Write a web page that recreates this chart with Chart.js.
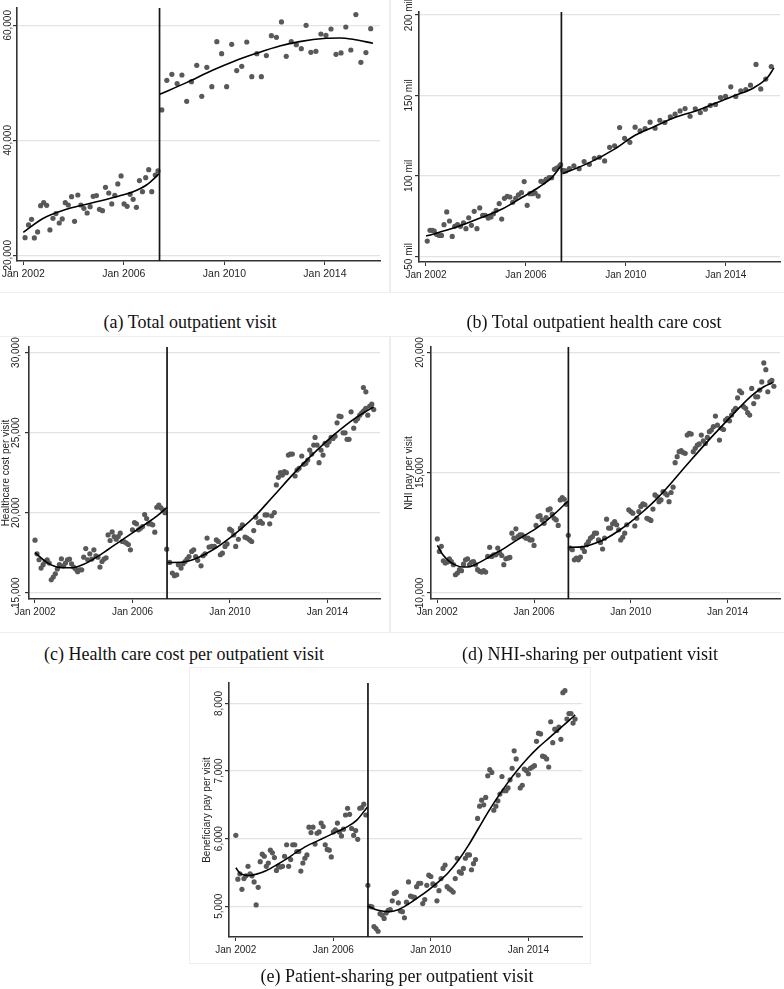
<!DOCTYPE html>
<html><head><meta charset="utf-8">
<script src="https://cdn.jsdelivr.net/npm/chart.js@4.4.1/dist/chart.umd.min.js"></script>
<style>
html,body{margin:0;padding:0;background:#fff;}
body{width:784px;height:989px;position:relative;overflow:hidden;}
canvas{position:absolute;outline:1px solid #eeeeee;}
.cap{position:absolute;font-family:'Liberation Serif','Times New Roman',serif;font-size:18px;color:#111;white-space:nowrap;transform:translateX(-50%);line-height:20px;}
</style></head><body>
<canvas id="pa" width="390" height="292" style="left:0;top:0;width:390px;height:292px"></canvas>
<canvas id="pb" width="394" height="292" style="left:390px;top:0;width:394px;height:292px"></canvas>
<canvas id="pc" width="390" height="295" style="left:0;top:337px;width:390px;height:295px"></canvas>
<canvas id="pd" width="394" height="295" style="left:390px;top:337px;width:394px;height:295px"></canvas>
<canvas id="pe" width="400" height="295" style="left:190px;top:668px;width:400px;height:295px"></canvas>
<div class="cap" style="left:190px;top:312px">(a) Total outpatient visit</div>
<div class="cap" style="left:594px;top:312px">(b) Total outpatient health care cost</div>
<div class="cap" style="left:184px;top:644px">(c) Health care cost per outpatient visit</div>
<div class="cap" style="left:590px;top:644px">(d) NHI-sharing per outpatient visit</div>
<div class="cap" style="left:397px;top:966px">(e) Patient-sharing per outpatient visit</div>
<script>
// ---------- shared ----------
const xTickYears = [2002, 2006, 2010, 2014];
const cutoff = 2007.42;

// ---------- (a) Total outpatient visit ----------
const aPreX = [2002.07,2002.21,2002.33,2002.44,2002.57,2002.69,2002.81,2002.93,2003.06,2003.18,2003.30,2003.43,2003.55,2003.67,2003.79,2003.92,2004.04,2004.17,2004.29,2004.41,2004.54,2004.66,2004.78,2004.91,2005.03,2005.15,2005.27,2005.40,2005.52,2005.64,2005.76,2005.89,2006.01,2006.13,2006.25,2006.37,2006.50,2006.62,2006.74,2006.87,2006.99,2007.11,2007.25,2007.36];
const aPreY = [23070,25280,26260,23020,24060,28640,29160,28700,24410,26440,27250,25620,26320,29160,28750,30200,25910,30490,28750,28170,27360,28460,30260,30380,28000,27770,31830,30840,28930,30440,32410,33800,28930,28520,30610,29740,28350,32990,31070,33510,34900,31070,33970,34670];
const aPostX = [2007.51,2007.71,2007.91,2008.12,2008.31,2008.50,2008.69,2008.90,2009.10,2009.30,2009.50,2009.70,2009.89,2010.09,2010.29,2010.49,2010.69,2010.89,2011.09,2011.29,2011.47,2011.67,2011.87,2012.07,2012.27,2012.46,2012.66,2012.86,2013.06,2013.25,2013.44,2013.64,2013.84,2014.04,2014.24,2014.44,2014.64,2014.83,2015.03,2015.23,2015.43,2015.63,2015.82];
const aPostY = [45280,50440,51480,49860,51360,46780,50200,53040,47650,52700,49330,57160,55070,49330,56700,52120,52870,57100,51070,55070,51070,54730,58200,57910,60580,54610,57160,56640,55940,60000,55300,55480,58490,58260,59360,54960,55190,59710,55710,61860,53570,55250,59420];
const aFitPreX = [2002.0,2002.8,2003.72,2004.38,2005.05,2005.71,2006.37,2006.9,2007.40];
const aFitPreY = [24000,26440,28000,28750,29450,30200,31070,32230,34150];
const aFitPostX = [2007.43,2008.49,2009.55,2010.34,2011.27,2012.2,2012.99,2014.05,2014.58,2015.11,2015.91];
const aFitPostY = [48000,50030,52230,53680,55130,56410,57160,57740,57800,57570,56870];
const aTicks = [20000,40000,60000];

// ---------- (b) Total outpatient health care cost (mil) ----------
const bPreX = [2002.05,2002.16,2002.25,2002.33,2002.42,2002.53,2002.62,2002.72,2002.83,2002.94,2003.05,2003.15,2003.26,2003.38,2003.50,2003.60,2003.71,2003.82,2003.93,2004.04,2004.15,2004.27,2004.37,2004.49,2004.60,2004.70,2004.81,2004.93,2005.03,2005.14,2005.25,2005.36,2005.47,2005.59,2005.70,2005.82,2005.93,2006.05,2006.16,2006.27,2006.37,2006.49,2006.60,2006.70,2006.81,2006.93,2007.03,2007.14,2007.23,2007.34,2007.39];
const bPreY = [59.5,66.2,66.2,65.7,63.7,63.0,63.0,69.7,77.6,72.0,62.4,68.7,69.7,68.7,70.9,67.2,74.0,69.3,78.0,67.2,80.1,75.5,75.5,73.8,74.5,76.5,78.6,82.8,73.2,86.1,87.3,86.9,83.6,86.1,88.2,89.6,96.5,81.7,89.0,89.0,89.4,87.5,96.7,96.3,97.9,98.9,98.9,104.1,104.8,106.0,107.0];
const bPostX = [2007.48,2007.59,2007.74,2007.92,2008.13,2008.33,2008.54,2008.74,2008.94,2009.15,2009.35,2009.55,2009.75,2009.95,2010.16,2010.37,2010.57,2010.77,2010.97,2011.17,2011.36,2011.56,2011.78,2011.97,2012.17,2012.37,2012.57,2012.78,2012.98,2013.18,2013.38,2013.59,2013.79,2013.99,2014.20,2014.40,2014.60,2014.80,2014.99,2015.21,2015.40,2015.60,2015.82];
const bPostY = [103.5,103.1,104.5,106.2,104.5,108.9,107.2,111.0,111.6,109.3,117.8,118.7,130.1,123.4,120.9,130.3,128.0,129.4,133.4,129.7,134.6,133.2,136.7,138.4,140.4,141.9,137.1,141.7,139.4,141.5,143.8,144.4,148.7,149.4,155.4,149.4,152.9,153.7,156.4,169.3,154.1,160.2,168.0];
const bFitPreX = [2002.0,2003.22,2004.28,2005.07,2005.87,2006.53,2007.06,2007.40];
const bFitPreY = [62.6,68.2,74.5,79.6,86.9,93.1,99.4,106.2];
const bFitPostX = [2007.46,2008.52,2009.58,2010.37,2011.17,2011.96,2012.76,2013.55,2014.34,2015.14,2015.67,2015.93];
const bFitPostY = [101.4,108.1,117.0,125.3,130.9,136.3,140.2,145.0,149.8,155.0,161.2,167.2];
const bTicks = [50,100,150,200];

// ---------- (c) Health care cost per visit (monthly pre, read positions post) ----------
const cPre = [18280,17430,17060,16540,16750,16950,17060,16850,15810,15980,16180,16480,16750,17120,16680,16850,17060,17100,16810,16600,16480,16310,16430,16430,17220,17760,17060,17430,17100,17680,17310,17220,16600,16950,17100,17180,18610,18260,18800,18510,18340,18510,18720,18200,18180,18100,18010,17680,18930,19380,19300,18930,19030,19130,19880,19630,19300,19300,19240,18780,20340,20480,20300,20170,20000];
const cPostX = [2007.405,2007.529,2007.638,2007.720,2007.816,2007.884,2007.994,2008.076,2008.158,2008.240,
2008.322,2008.432,2008.514,2008.596,2008.678,2008.815,2008.897,2008.979,2009.061,2009.143,
2009.253,2009.362,2009.444,2009.526,2009.609,2009.691,2009.800,2009.882,2009.992,2010.074,
2010.156,2010.238,2010.347,2010.430,2010.512,2010.621,2010.703,2010.813,2010.895,2010.977,
2011.059,2011.169,2011.251,2011.333,2011.442,2011.524,2011.634,2011.716,2011.825,2011.907,
2011.990,2012.072,2012.154,2012.236,2012.318,2012.400,2012.482,2012.564,2012.674,2012.756,
2012.838,2012.948,2013.030,2013.112,2013.194,2013.276,2013.358,2013.440,2013.495,2013.577,
2013.659,2013.741,2013.823,2013.905,2013.987,2014.070,2014.152,2014.234,2014.316,2014.398,
2014.480,2014.562,2014.644,2014.726,2014.808,2014.890,2014.973,2015.082,2015.164,2015.246,
2015.328,2015.411,2015.479,2015.493,2015.575,2015.580,2015.657,2015.739,2015.821,2015.903];
const cPostY = [17720,16890,16230,16060,16120,16750,16540,16810,16950,17100,
17260,17580,17680,17260,17020,16680,17310,17430,18410,17850,
17890,17890,18300,18200,17370,17470,17890,18050,18970,18880,
18610,17890,18340,19030,19240,18470,18410,18300,18200,18880,
19720,19380,19450,19340,19860,19860,19300,19800,20010,21730,
22210,22500,22350,22560,22500,23600,23660,23660,22290,22660,
22770,23540,23020,23080,23290,23910,23660,24220,24700,24220,
23120,23910,23600,24330,24220,24430,24700,24640,24780,25610,
26030,26000,24990,24990,24580,24580,26300,25280,25740,25880,
26090,26240,27820,26360,26510,27550,26090,26650,26780,26440];
const cFitPreX = [2002.0,2002.5,2003.0,2003.5,2004.0,2004.5,2005.0,2005.5,2006.0,2006.5,2007.0,2007.42];
const cFitPreY = [17500,16880,16580,16560,16780,17200,17700,18220,18740,19250,19780,20330];
const cFitPostX = [2007.42,2008.0,2008.5,2009.0,2009.5,2010.0,2010.5,2011.0,2011.5,2012.0,2012.5,2013.0,2013.5,2014.0,2014.5,2015.0,2015.5,2015.9];
const cFitPostY = [16890,16900,17080,17420,17870,18420,19050,19730,20550,21400,22250,23050,23800,24500,25150,25750,26250,26600];
const cTicks = [15000,20000,25000,30000];

// ---------- (d) NHI pay per visit (monthly, Jan 2002 = month 0) ----------
const dPre = [12250,11730,11940,11340,11250,11290,11420,11310,11180,10760,10830,10970,10930,11200,11380,11420,11180,11290,11310,11180,10970,10900,10870,10930,10870,11520,11900,11520,11590,11590,11870,11660,11560,11180,11420,11450,11480,12490,12280,12670,12350,12420,12420,12350,12280,12280,12210,12210,11980,12810,13180,13220,13040,12900,13140,13460,13500,13280,13110,13040,12810,13870,13970,13900,13690];
const dPost = [12400,
11870,11800,11380,11450,11380,11490,11870,11730,12010,12140,
12280,12350,12490,12490,12210,12100,11830,12280,13070,12700,
12700,12880,12970,12840,12630,12210,12320,12490,12840,13460,
13390,13320,12790,13110,13390,13600,13710,13670,13110,13070,
13020,13490,14080,14010,13800,13870,14220,14150,14080,13800,
14180,14400,15420,15670,15880,15920,15840,15810,16570,16640,
16610,15880,16020,16150,16200,16570,16330,16220,16470,16710,
16780,16920,17360,16980,16360,16850,16800,17190,17260,17160,
17400,17580,17680,18120,18410,18330,17750,17680,17500,17400,
18510,17880,18160,18160,18440,18780,19570,19290,18370,18780,
18850,18600];
const dFitPreX = [2002.0,2002.23,2002.51,2002.78,2003.05,2003.33,2003.6,2004.01,2004.42,2004.83,2005.24,2005.65,2006.06,2006.47,2006.88,2007.40];
const dFitPreY = [11980,11590,11310,11150,11080,11090,11200,11420,11660,11900,12170,12420,12670,12970,13320,13820];
const dFitPostX = [2007.42,2008.0,2008.5,2009.0,2009.5,2010.0,2010.5,2011.0,2011.5,2012.0,2012.5,2013.0,2013.5,2014.0,2014.5,2015.0,2015.5,2015.9];
const dFitPostY = [11900,11920,12060,12280,12590,12960,13380,13840,14380,14960,15540,16110,16660,17190,17720,18210,18580,18760];
const dTicks = [10000,15000,20000];

// ---------- (e) Beneficiary pay per visit (monthly) ----------
const ePre = [6050,5400,5480,5250,5410,5450,5590,5480,5450,5360,5020,5280,5660,5770,5740,5590,5640,5830,5790,5720,5530,5590,5580,5590,5740,5910,5590,5690,5910,5910,5810,5810,5520,5640,5710,5760,6170,6090,6170,5920,6080,6100,6230,6180,5910,5840,5830,5730,6100,6130,6230,6100,6040,6140,6350,6450,6360,6150,6050,6120,5990,6450,6460,6510,6350];
const ePost = [5310,
5000,4990,4700,4670,4630,4890,4870,4820,4900,4940,
4950,5080,5190,5210,5050,4930,4920,4830,5060,5360,
5150,5140,5130,5290,5340,5340,5040,5100,5310,5460,
5440,5330,5310,5080,5230,5410,5560,5610,5290,5260,
5240,5210,5410,5710,5510,5490,5560,5710,5760,5760,
5540,5630,5690,6300,6480,6570,6500,6610,6930,7020,
6980,6420,6480,6560,6660,6920,6710,6710,6750,6870,
7040,7300,7180,6940,6750,6790,7030,7010,6960,7040,
7060,7080,7440,7560,7550,7220,7210,7180,7060,7730,
7420,7620,7600,7650,7470,8160,8190,7770,7850,7850,
7710,7770];
const eFitPreX = [2002.0,2002.16,2002.37,2002.58,2002.85,2003.26,2003.67,2004.08,2004.49,2004.90,2005.31,2005.72,2006.13,2006.54,2006.95,2007.40];
const eFitPreY = [5570,5490,5460,5455,5475,5530,5610,5700,5800,5890,5960,6030,6100,6170,6270,6470];
const eFitPostX = [2007.43,2007.84,2008.25,2008.66,2009.07,2009.48,2009.90,2010.31,2010.72,2011.13,2011.54,2011.95,2012.36,2012.77,2013.18,2013.59,2014.00,2014.41,2014.82,2015.23,2015.64,2015.92];
const eFitPostY = [5000,4940,4920,4950,5030,5130,5240,5360,5500,5680,5900,6150,6400,6630,6840,7030,7200,7350,7480,7610,7740,7830];
const eTicks = [5000,6000,7000,8000];

// ---------- helpers ----------
const zip = (xs, ys) => ys.map((v, i) => ({x: xs[i], y: v}));
const monthly = (startMonth, ys) => ys.map((v, i) => ({x: 2002 + (startMonth + i) / 12, y: v}));
const formatters = {
  comma: v => Number(v).toLocaleString('en-US'),
  mil: v => v + ' mil'
};

const deco = {
  id: 'deco',
  afterDatasetsDraw(chart) {
    const {ctx, chartArea: ca, scales: {x}} = chart;
    const px = x.getPixelForValue(cutoff);
    ctx.save();
    ctx.strokeStyle = '#151515'; ctx.lineWidth = 1.7;
    ctx.beginPath(); ctx.moveTo(px, ca.top); ctx.lineTo(px, ca.bottom); ctx.stroke();
    ctx.restore();
  },
  afterDraw(chart) {
    const o = chart.$panel;
    const {ctx, chartArea: ca, scales: {y}} = chart;
    const fmt = formatters[o.fmt];
    ctx.save();
    ctx.fillStyle = '#222'; ctx.textAlign = 'center'; ctx.textBaseline = 'middle';
    ctx.font = '10px "Liberation Sans", Arial, sans-serif';
    y.ticks.forEach(t => {
      const py = y.getPixelForValue(t.value);
      ctx.save(); ctx.translate(o.labelX, py); ctx.rotate(-Math.PI / 2);
      ctx.fillText(fmt(t.value), 0, 0); ctx.restore();
    });
    if (o.title) {
      ctx.translate(o.titleX, (ca.top + ca.bottom) / 2); ctx.rotate(-Math.PI / 2);
      ctx.font = '10px "Liberation Sans", Arial, sans-serif';
      ctx.fillText(o.title, 0, 0);
    }
    ctx.restore();
  }
};

function fitLine(pts) {
  return {data: pts, showLine: true, pointRadius: 0, borderColor: '#000', borderWidth: 1.6,
          cubicInterpolationMode: 'monotone', fill: false};
}

function makePanel(id, p) {
  const canvas = document.getElementById(id);
  return new Chart(canvas, {
    type: 'scatter',
    data: {datasets: [
      fitLine(p.fitPre), fitLine(p.fitPost),
      {data: p.points, showLine: false, pointRadius: 2.6, pointBorderWidth: 0,
       pointBackgroundColor: '#595959', backgroundColor: '#595959'}
    ]},
    options: {
      responsive: false, animation: false, devicePixelRatio: 1,
      layout: {padding: {top: p.T, right: p.R, left: 0, bottom: 0}},
      plugins: {legend: {display: false}, tooltip: {enabled: false}},
      scales: {
        x: {type: 'linear', min: p.xmin, max: p.xmax,
          afterBuildTicks: s => { s.ticks = xTickYears.map(v => ({value: v})); },
          afterFit: s => { s.height = p.B; s.paddingLeft = 0; s.paddingRight = 0; },
          ticks: {callback: v => 'Jan ' + v, font: {family: '"Liberation Sans", Arial, sans-serif', size: p.xfs},
                  color: '#1e1e1e', padding: 3, autoSkip: false, maxRotation: 0, minRotation: 0},
          grid: {drawOnChartArea: false, drawTicks: true, tickLength: 4, tickColor: '#333'},
          border: {color: '#333', width: 1.6}},
        y: {type: 'linear', min: p.ymin, max: p.ymax,
          afterBuildTicks: s => { s.ticks = p.yTicks.map(v => ({value: v})); },
          afterFit: s => { s.width = p.L; s.paddingTop = 0; s.paddingBottom = 0; },
          ticks: {display: false},
          grid: {color: '#e3e3e3', lineWidth: 1.2, tickColor: '#333', tickLength: 4, drawTicks: true},
          border: {color: '#333', width: 1.6}}
      }
    },
    plugins: [{id: 'panelInfo', beforeInit(c) { c.$panel = p; }}, deco]
  });
}

makePanel('pa', {
  points: zip(aPreX, aPreY).concat(zip(aPostX, aPostY)),
  fitPre: zip(aFitPreX, aFitPreY), fitPost: zip(aFitPostX, aFitPostY),
  xmin: 2001.75, xmax: 2016.19, ymin: 19010, ymax: 63010, yTicks: aTicks,
  L: 17, T: 8, R: 10, B: 31, labelX: 8.5, fmt: 'comma', xfs: 10.5
});
makePanel('pb', {
  points: zip(bPreX, bPreY).concat(zip(bPostX, bPostY)),
  fitPre: zip(bFitPreX, bFitPreY), fitPost: zip(bFitPostX, bFitPostY),
  xmin: 2001.72, xmax: 2016.17, ymin: 46.5, ymax: 201.9, yTicks: bTicks,
  L: 29, T: 12, R: 1, B: 30, labelX: 19.5, fmt: 'mil', xfs: 10
});
makePanel('pc', {
  points: monthly(0, cPre).concat(zip(cPostX, cPostY)),
  fitPre: zip(cFitPreX, cFitPreY), fitPost: zip(cFitPostX, cFitPostY),
  xmin: 2001.754, xmax: 2016.16, ymin: 14607, ymax: 30349, yTicks: cTicks,
  L: 29, T: 10, R: 10, B: 33, labelX: 16, fmt: 'comma', xfs: 10,
  title: 'Healthcare cost per visit', titleX: 6
});
makePanel('pd', {
  points: monthly(0, dPre).concat(monthly(65, dPost)),
  fitPre: zip(dFitPreX, dFitPreY), fitPost: zip(dFitPostX, dFitPostY),
  xmin: 2001.74, xmax: 2016.17, ymin: 9751, ymax: 20232, yTicks: dTicks,
  L: 41, T: 10, R: 1, B: 33, labelX: 30, fmt: 'comma', xfs: 10,
  title: 'NHI pay per visit', titleX: 19.5
});
makePanel('pe', {
  points: monthly(0, ePre).concat(monthly(65, ePost)),
  fitPre: zip(eFitPreX, eFitPreY), fitPost: zip(eFitPostX, eFitPostY),
  xmin: 2001.72, xmax: 2016.2, ymin: 4545, ymax: 8303, yTicks: eTicks,
  L: 39, T: 15, R: 8, B: 26, labelX: 29.5, fmt: 'comma', xfs: 10,
  title: 'Beneficiary pay per visit', titleX: 17
});
</script>
</body></html>
